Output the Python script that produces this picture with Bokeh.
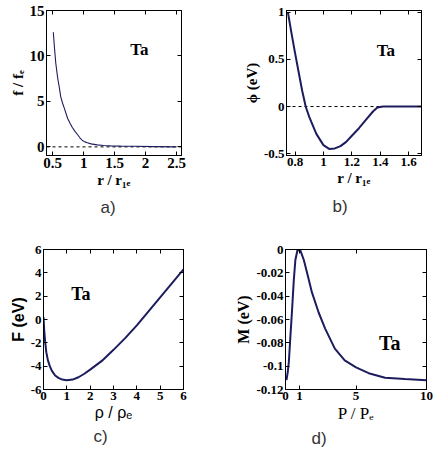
from bokeh.plotting import figure
from bokeh.layouts import column, row
from bokeh.models import LinearAxis, FixedTicker, Range1d, Label, Title
from bokeh.embed import file_html
from bokeh.resources import INLINE

# ---------------- data ----------------
# a) f / f_e versus r / r_1e
a_r = [0.51, 0.53, 0.55, 0.58, 0.61, 0.63, 0.66, 0.69, 0.74, 0.78, 0.82, 0.86, 0.90, 0.94, 0.98,
       1.02, 1.06, 1.12, 1.22, 1.32, 1.44, 1.60, 1.81, 2.14, 2.50]
a_f = [12.6, 10.8, 9.2, 7.6, 6.4, 5.5, 4.8, 4.2, 3.15, 2.6, 2.1, 1.7, 1.36, 1.0, 0.7,
       0.55, 0.45, 0.33, 0.22, 0.15, 0.11, 0.08, 0.06, 0.03, 0.0]
a_zero_x = [0.4, 2.58]
a_zero_y = [0.0, 0.0]
a_xticks = [0.5, 1, 1.5, 2, 2.5]
a_xlabels = ["0.5", "1", "1.5", "2", "2.5"]
a_yticks = [0, 5, 10, 15]
a_ylabels = ["0", "5", "10", "15"]

# b) phi (eV) versus r / r_1e
b_r = [0.75, 0.775, 0.80, 0.825, 0.85, 0.875, 0.90, 0.95, 1.00, 1.04, 1.08, 1.12, 1.16, 1.20,
       1.25, 1.30, 1.35, 1.38, 1.42, 1.50, 1.60, 1.69]
b_phi = [1.0, 0.78, 0.57, 0.37, 0.17, 0.0, -0.11, -0.29, -0.41, -0.45, -0.445, -0.42, -0.375, -0.31,
         -0.23, -0.14, -0.05, -0.01, 0.0, 0.0, 0.0, 0.0]
b_zero_x = [0.74, 1.4]
b_zero_y = [0.0, 0.0]
b_xticks = [0.8, 1, 1.2, 1.4, 1.6]
b_xlabels = ["0.8", "1", "1.2", "1.4", "1.6"]
b_yticks = [-0.5, 0, 0.5, 1]
b_ylabels = ["-0.5", "0", "0.5", "1"]

# c) F (eV) versus rho / rho_e
c_rho = [0.0, 0.03, 0.07, 0.12, 0.19, 0.27, 0.36, 0.50, 0.64, 0.80, 1.0, 1.25, 1.5, 1.75, 2.0,
         2.5, 3.0, 3.5, 4.0, 4.5, 5.0, 5.5, 6.0]
c_F = [0.2, -0.9, -1.9, -2.8, -3.5, -4.0, -4.4, -4.8, -5.0, -5.15, -5.2, -5.15, -4.95, -4.65, -4.3,
       -3.55, -2.6, -1.6, -0.5, 0.7, 1.9, 3.1, 4.3]
c_xticks = [0, 1, 2, 3, 4, 5, 6]
c_xlabels = ["0", "1", "2", "3", "4", "5", "6"]
c_yticks = [-6, -4, -2, 0, 2, 4, 6]
c_ylabels = ["-6", "-4", "-2", "0", "2", "4", "6"]

# d) M (eV) versus P / P_e
d_P = [0.07, 0.16, 0.24, 0.35, 0.47, 0.59, 0.70, 0.85, 1.06, 1.30, 1.53, 1.88, 2.35, 2.82, 3.5,
       4.2, 5.0, 5.9, 7.06, 8.47, 10.0]
d_M = [-0.112, -0.105, -0.096, -0.074, -0.051, -0.026, -0.009, -0.0005, -0.001, -0.009, -0.02,
       -0.037, -0.054, -0.068, -0.085, -0.095, -0.101, -0.106, -0.110, -0.111, -0.112]
d_xticks = [0, 1, 5, 10]
d_xlabels = ["0", "1", "5", "10"]
d_yticks = [-0.12, -0.1, -0.08, -0.06, -0.04, -0.02, 0]
d_ylabels = ["-0.12", "-0.1", "-0.08", "-0.06", "-0.04", "-0.02", "0"]

CURVE = "#1c1c5e"
SERIF = "Liberation Serif"
SANS = "Liberation Sans"


def style_axis(ax, ticks, labels, size="13px", show_labels=True):
    ax.ticker = FixedTicker(ticks=ticks, minor_ticks=[])
    if show_labels:
        ax.major_label_overrides = {t: l for t, l in zip(ticks, labels)}
    else:
        ax.major_label_overrides = {t: "" for t in ticks}
    ax.major_tick_in = 4
    ax.major_tick_out = 0
    ax.minor_tick_in = 0
    ax.minor_tick_out = 0
    ax.axis_line_color = "black"
    ax.major_tick_line_color = "black"
    ax.major_label_text_font = SERIF
    ax.major_label_text_font_style = "bold"
    ax.major_label_text_color = "black"
    ax.major_label_text_font_size = size
    ax.major_label_standoff = 2
    ax.axis_label_standoff = 1
    ax.axis_label_text_color = "black"


def make_fig(w, h, xr, yr, borders, xt, xl, yt, yl, tick_size,
             xlabel, xfont, xstyle, xsize, ylabel, yfont, ystyle, ysize):
    bl, br, bt, bb = borders
    p = figure(width=w, height=h, x_range=Range1d(*xr), y_range=Range1d(*yr),
               output_backend="svg", toolbar_location=None, tools="",
               min_border_left=bl, min_border_right=br, min_border_top=bt, min_border_bottom=bb)
    p.outline_line_color = "black"
    p.background_fill_color = "white"
    p.border_fill_color = "white"
    p.xgrid.visible = False
    p.ygrid.visible = False
    xa = p.below[0]
    ya = p.left[0]
    style_axis(xa, xt, xl, tick_size)
    style_axis(ya, yt, yl, tick_size)
    xa.axis_label = xlabel
    xa.axis_label_text_font = xfont
    xa.axis_label_text_font_style = xstyle
    xa.axis_label_text_font_size = xsize
    ya.axis_label = ylabel
    ya.axis_label_text_font = yfont
    ya.axis_label_text_font_style = ystyle
    ya.axis_label_text_font_size = ysize
    top = LinearAxis()
    style_axis(top, xt, xl, tick_size, show_labels=False)
    right = LinearAxis()
    style_axis(right, yt, yl, tick_size, show_labels=False)
    p.add_layout(top, "above")
    p.add_layout(right, "right")
    return p


def ta(p, x, y, size):
    p.add_layout(Label(x=x, y=y, text="Ta", text_font=SERIF, text_font_style="bold",
                       text_font_size=size, text_align="center", text_baseline="middle",
                       text_color="black"))


def caption(p, text, offset, standoff):
    p.add_layout(Title(text=text, align="left", offset=offset, standoff=standoff,
                       text_font=SANS, text_font_style="normal", text_font_size="17px",
                       text_color="#333333"), "below")


pa = make_fig(218, 225, (0.4, 2.58), (-0.95, 15.0), (46, 37, 7, 70),
              a_xticks, a_xlabels, a_yticks, a_ylabels, "15px",
              "r / r₁ₑ", SERIF, "bold", "15px", "f / fₑ", SERIF, "bold", "15px")
pa.line(a_zero_x, a_zero_y, line_color="black", line_dash="3 3", line_width=1)
pa.line(a_r, a_f, line_color=CURVE, line_width=1.1)
ta(pa, 1.9, 10.7, "17px")
caption(pa, "a)", 54, 10)

pb = make_fig(218, 225, (0.74, 1.69), (-0.52, 1.02), (68, 15, 10, 70),
              b_xticks, b_xlabels, b_yticks, b_ylabels, "13px",
              "r / r₁ₑ", SERIF, "bold", "15px", "ϕ (eV)", SERIF, "bold", "15px")
pb.line(b_zero_x, b_zero_y, line_color="black", line_dash="3 3", line_width=1)
pb.line(b_r, b_phi, line_color=CURVE, line_width=2)
ta(pb, 1.44, 0.6, "17px")
caption(pb, "b)", 46, 12)

pc = make_fig(218, 223, (0.0, 6.0), (-6.0, 6.0), (43, 35, 24, 59),
              c_xticks, c_xlabels, c_yticks, c_ylabels, "13px",
              "ρ / ρₑ", SANS, "normal", "16px", "F (eV)", SANS, "bold", "16px")
pc.line(c_rho, c_F, line_color=CURVE, line_width=2)
ta(pc, 1.6, 2.2, "18px")
caption(pc, "c)", 50, 2)

pd = make_fig(218, 223, (0.0, 10.0), (-0.12, 0.0), (67, 10, 23, 57),
              d_xticks, d_xlabels, d_yticks, d_ylabels, "13px",
              "P / Pₑ", SERIF, "normal", "17px", "M (eV)", SERIF, "bold", "16px")
pd.line(d_P, d_M, line_color=CURVE, line_width=2)
ta(pd, 7.4, -0.08, "20px")
caption(pd, "d)", 26, 2)

layout = column(row(pa, pb, spacing=0), row(pc, pd, spacing=0), spacing=0)

open("out.html", "w").write(file_html(layout, INLINE))
